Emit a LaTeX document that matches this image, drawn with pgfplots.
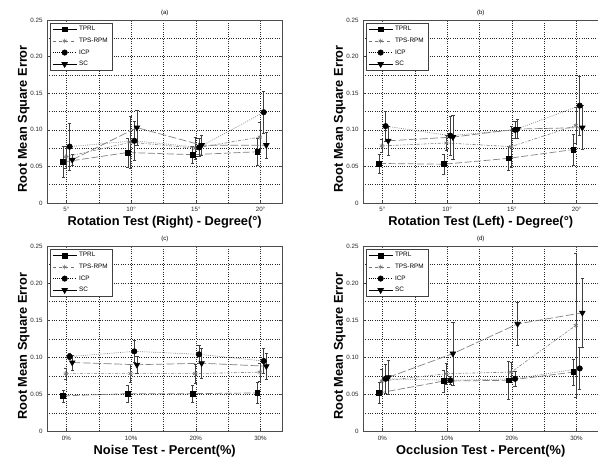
\documentclass[border=0pt]{standalone}
\usepackage{fontspec}
\setmainfont{Liberation Sans}
\usepackage{pgfplots}
\pgfplotsset{compat=1.18}
\pgfplotsset{
  errb/.style={error bars/y dir=both, error bars/y explicit,
     error bars/error bar style={solid, black!75, line width=0.5pt},
     error bars/error mark options={rotate=90, black!75, mark size=1.6pt, solid, line width=0.5pt}},
  tprl/.style={black!50, line width=0.7pt, dash pattern=on 7pt off 2.5pt, mark=square*, mark size=2.4pt, mark options={solid, black, fill=black}, errb},
  tps/.style={black!50, line width=0.6pt, dash pattern=on 3pt off 1.5pt on 1pt off 1.5pt, mark=asterisk, mark size=2.4pt, mark options={solid, black!55}, errb},
  icp/.style={black!50, line width=0.6pt, dash pattern=on 1pt off 1.2pt, mark=*, mark size=2.7pt, mark options={solid, black, fill=black}, errb},
  sc/.style={black!50, line width=0.7pt, dash pattern=on 8pt off 2.5pt, mark=triangle*, mark size=3.2pt, mark options={solid, black, fill=black, rotate=180}, errb},
  panel/.style={
    scale only axis, width=235.5pt,
    xmin=0.7, xmax=4.34, ymin=0, ymax=0.25,
    xtick={1,2,3,4}, minor xtick={1.5,2.5,3.5},
    ytick={0,0.05,0.10,0.15,0.20,0.25},
    yticklabels={0,0.05,0.10,0.15,0.20,0.25},
    minor ytick={0.025,0.075,0.125,0.175,0.225},
    grid=both,
    major grid style={black!85, line width=0.45pt, dash pattern=on 1pt off 1.3pt},
    minor grid style={black!85, line width=0.45pt, dash pattern=on 1pt off 1.3pt},
    axis line style={black!70, line width=0.6pt},
    tick align=inside, major tick length=2pt, minor tick length=0pt,
    tick style={black!70},
    ticklabel style={font=\fontsize{6.2}{7}\selectfont, text=black!85},
    xticklabel style={yshift=-1pt},
    yticklabel style={xshift=-1pt},
    every axis title/.style={font=\fontsize{6}{7}\selectfont, at={(axis description cs:0.5,1)}, anchor=base, yshift=5pt},
    xlabel style={font=\fontsize{12.8}{14}\selectfont\bfseries, at={(axis description cs:0.5,0)}, anchor=base, yshift=-23pt},
    ylabel style={font=\fontsize{12.8}{14}\selectfont\bfseries, at={(axis description cs:-0.085,0.46)}, anchor=base},
    legend image code/.code={\draw[mark repeat=2,mark phase=2] plot coordinates {(0pt,0pt) (12pt,0pt) (24pt,0pt)};},
    legend style={at={(0.013,0.985)}, anchor=north west, font=\fontsize{6.4}{7}\selectfont, draw=black!75, line width=0.5pt, inner xsep=2pt, inner ysep=1.5pt, row sep=1.6pt, fill=white},
    legend cell align=left,
  },
}
\newcommand{\legimgs}{%
  \addlegendimage{black, solid, line width=0.7pt, mark=square*, mark size=2.4pt, mark options={solid, fill=black}}
  \addlegendimage{black!55, dashed, line width=0.6pt, mark=asterisk, mark size=2.4pt, mark options={solid}}
  \addlegendimage{black, line width=0.6pt, dash pattern=on 1pt off 1.2pt, mark=*, mark size=2.7pt, mark options={solid}}
  \addlegendimage{black, solid, line width=0.7pt, mark=triangle*, mark size=3.2pt, mark options={solid, rotate=180}}
  \legend{TPRL,TPS-RPM,ICP,SC}
}
\begin{document}
\begin{tikzpicture}
\useasboundingbox (0pt,0pt) rectangle (598pt,-457pt);
% (a)
\begin{axis}[panel, height=183pt, at={(47pt,-20pt)}, anchor=north west,
  title={(a)}, xticklabels={5°,10°,15°,20°},
  xlabel={Rotation Test (Right) - Degree(°)}, ylabel={Root Mean Square Error}]
\legimgs
\addplot[forget plot, tprl] coordinates {(0.95,0.056) +- (0,0.021) (1.95,0.069) +- (0,0.020) (2.95,0.066) +- (0,0.012) (3.95,0.070) +- (0,0.018)};
\addplot[forget plot, tps] coordinates {(0.99,0.063) +- (0,0.015) (1.99,0.083) +- (0,0.036) (2.99,0.075) +- (0,0.015) (3.99,0.090) +- (0,0.020)};
\addplot[forget plot, icp] coordinates {(1.05,0.077) +- (0,0.032) (2.05,0.085) +- (0,0.027) (3.05,0.076) +- (0,0.012) (4.05,0.124) +- (0,0.029)};
\addplot[forget plot, sc] coordinates {(1.09,0.059) +- (0,0.008) (2.09,0.103) +- (0,0.024) (3.09,0.079) +- (0,0.014) (4.09,0.079) +- (0,0.018)};
\end{axis}
% (b)
\begin{axis}[panel, height=183pt, at={(363pt,-20pt)}, anchor=north west,
  title={(b)}, xticklabels={5°,10°,15°,20°},
  xlabel={Rotation Test (Left) - Degree(°)}, ylabel={Root Mean Square Error}]
\legimgs
\addplot[forget plot, tprl] coordinates {(0.95,0.054) +- (0,0.013) (1.95,0.053) +- (0,0.014) (2.95,0.061) +- (0,0.016) (3.95,0.073) +- (0,0.021)};
\addplot[forget plot, tps] coordinates {(0.99,0.078) +- (0,0.009) (1.99,0.082) +- (0,0.010) (2.99,0.077) +- (0,0.028) (3.99,0.106) +- (0,0.025)};
\addplot[forget plot, icp] coordinates {(1.05,0.105) +- (0,0.020) (2.05,0.092) +- (0,0.027) (3.05,0.100) +- (0,0.012) (4.05,0.133) +- (0,0.040)};
\addplot[forget plot, sc] coordinates {(1.09,0.085) +- (0,0.020) (2.09,0.090) +- (0,0.030) (3.09,0.101) +- (0,0.013) (4.09,0.103) +- (0,0.030)};
\end{axis}
% (c)
\begin{axis}[panel, height=185.5pt, at={(47pt,-246pt)}, anchor=north west,
  title={(c)}, xticklabels={0\%,10\%,20\%,30\%},
  xlabel={Noise Test - Percent(\%)}, ylabel={Root Mean Square Error}]
\legimgs
\addplot[forget plot, tprl] coordinates {(0.95,0.048) +- (0,0.008) (1.95,0.051) +- (0,0.012) (2.95,0.051) +- (0,0.011) (3.95,0.052) +- (0,0.014)};
\addplot[forget plot, tps] coordinates {(0.99,0.078) +- (0,0.007) (1.99,0.078) +- (0,0.012) (2.99,0.078) +- (0,0.013) (3.99,0.080) +- (0,0.012)};
\addplot[forget plot, icp] coordinates {(1.05,0.101) +- (0,0.004) (2.05,0.108) +- (0,0.015) (3.05,0.104) +- (0,0.012) (4.05,0.095) +- (0,0.017)};
\addplot[forget plot, sc] coordinates {(1.09,0.093) +- (0,0.010) (2.09,0.090) +- (0,0.012) (3.09,0.092) +- (0,0.020) (4.09,0.088) +- (0,0.018)};
\end{axis}
% (d)
\begin{axis}[panel, height=185.5pt, at={(363pt,-246pt)}, anchor=north west,
  title={(d)}, xticklabels={0\%,10\%,20\%,30\%},
  xlabel={Occlusion Test - Percent(\%)}, ylabel={Root Mean Square Error}]
\legimgs
\addplot[forget plot, tprl] coordinates {(0.95,0.052) +- (0,0.014) (1.95,0.068) +- (0,0.015) (2.95,0.069) +- (0,0.025) (3.95,0.080) +- (0,0.018)};
\addplot[forget plot, tps] coordinates {(0.99,0.068) +- (0,0.016) (1.99,0.078) +- (0,0.014) (2.99,0.080) +- (0,0.013) (3.99,0.143) +- (0,0.097)};
\addplot[forget plot, icp] coordinates {(1.05,0.071) +- (0,0.020) (2.05,0.069) +- (0,0.005) (3.05,0.071) +- (0,0.010) (4.05,0.085) +- (0,0.028)};
\addplot[forget plot, sc] coordinates {(1.09,0.073) +- (0,0.023) (2.09,0.105) +- (0,0.042) (3.09,0.145) +- (0,0.029) (4.09,0.160) +- (0,0.047)};
\end{axis}
\end{tikzpicture}
\end{document}
